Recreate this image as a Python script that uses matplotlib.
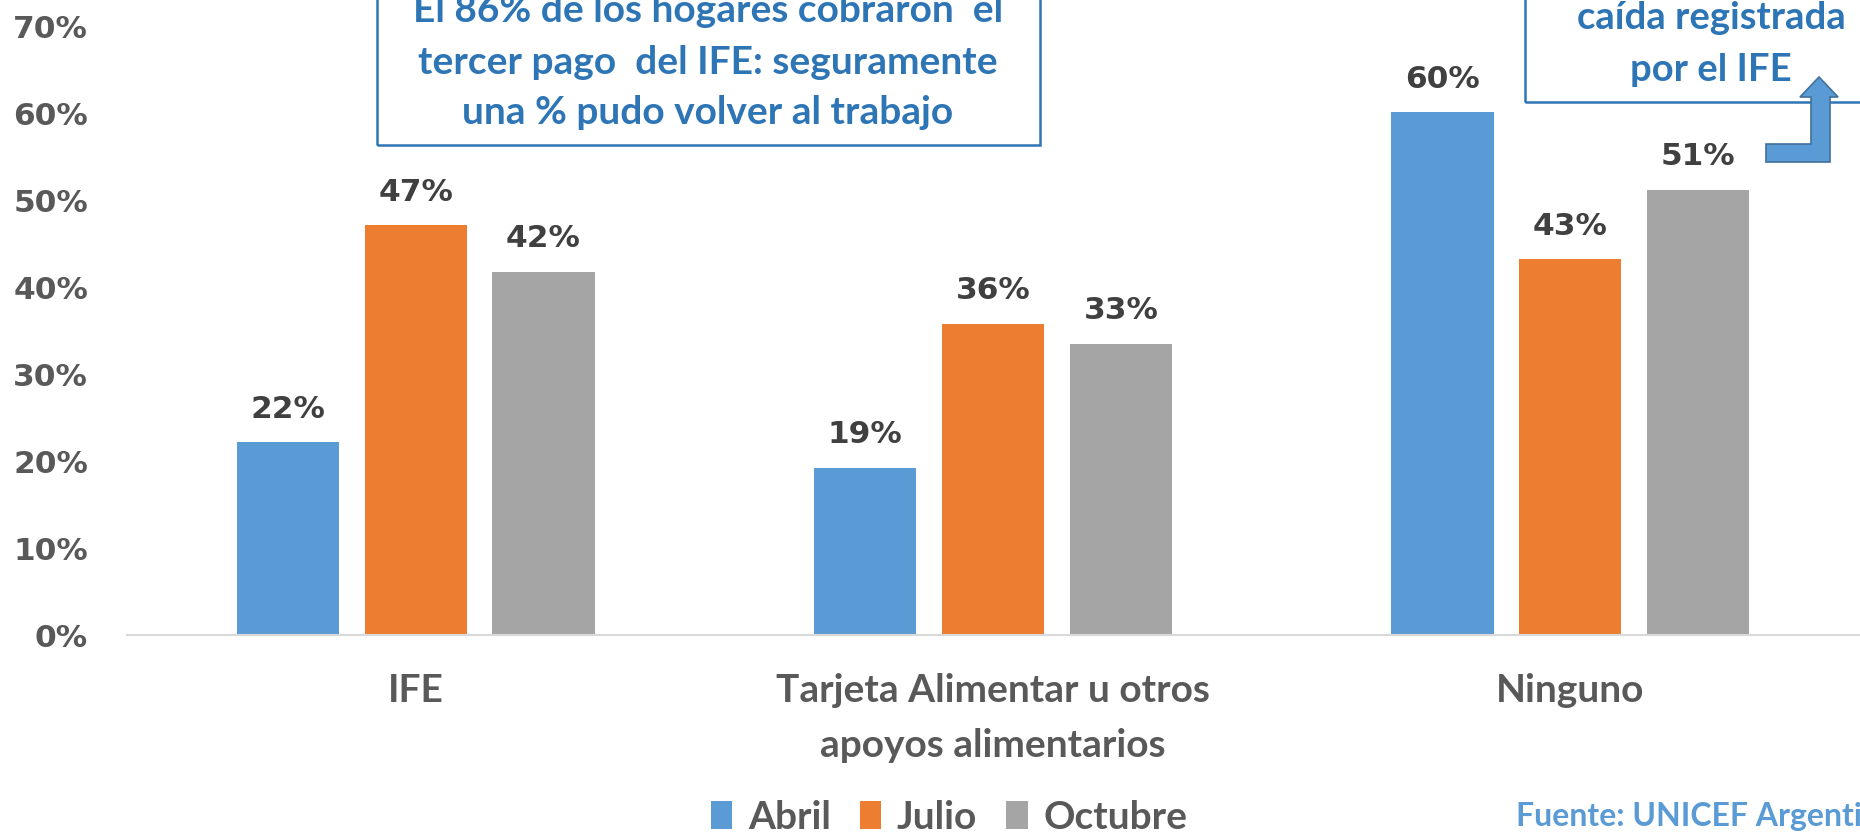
import matplotlib
matplotlib.use("Agg")
import matplotlib.pyplot as plt
from matplotlib.patches import Rectangle, Polygon, Patch
import numpy as np

categories = ["IFE", "Tarjeta Alimentar u otros\napoyos alimentarios", "Ninguno"]
series_names = ["Abril", "Julio", "Octubre"]
abril = [0.221, 0.192, 0.600]
julio = [0.470, 0.357, 0.431]
octubre = [0.417, 0.334, 0.511]
colors = ["#5B9BD5", "#ED7D31", "#A5A5A5"]
yticks = [0, 0.1, 0.2, 0.3, 0.4, 0.5, 0.6, 0.7]
ytick_labels = ["0%", "10%", "20%", "30%", "40%", "50%", "60%", "70%"]

W, H = 1860, 837
fig = plt.figure(figsize=(W / 100, H / 100), dpi=100)

def fx(px):
    return px / W

def fy(py):
    return 1 - py / H

ax = fig.add_axes([fx(127), fy(636), fx(1859) - fx(127), fy(26) - fy(636)])

x = np.arange(len(categories))
width = 0.177
pitch = 0.2215
label_font = "Lato"
for i, (vals, name, c) in enumerate(zip([abril, julio, octubre], series_names, colors)):
    bars = ax.bar(x + (i - 1) * pitch, vals, width, color=c, label=name, zorder=2)
    for b, v in zip(bars, vals):
        ax.annotate(f"{v*100:.0f}%", (b.get_x() + b.get_width() / 2, v),
                    xytext=(0, 14), textcoords="offset points",
                    ha="center", va="bottom", fontsize=22.5, fontweight="bold",
                    color="#404040", family="DejaVu Sans")

ax.set_xlim(-0.5, 2.5)
ax.set_ylim(0, 0.7)
ax.set_yticks(yticks)
ax.set_yticklabels(ytick_labels, fontsize=22.5, fontweight="bold", color="#595959",
                   family="DejaVu Sans")
ax.set_xticks(x)
ax.set_xticklabels(categories, fontsize=28, fontweight="bold", color="#595959",
                   family=label_font, linespacing=1.68)
ax.tick_params(axis="y", length=0, pad=28)
ax.tick_params(axis="x", length=0, pad=27)
for s in ["top", "right", "left"]:
    ax.spines[s].set_visible(False)
ax.spines["bottom"].set_color("#D9D9D9")
ax.spines["bottom"].set_linewidth(1.5)
ax.set_facecolor("none")

# Legend
handles = [Patch(facecolor=c, edgecolor="none") for c in colors]
leg = fig.legend(handles, series_names, loc="center", bbox_to_anchor=(fx(949), fy(818)),
                 ncol=3, frameon=False, handlelength=0.55, handleheight=0.75,
                 handletextpad=0.4, columnspacing=0.75,
                 prop={"family": label_font, "weight": "bold", "size": 28})
for t in leg.get_texts():
    t.set_color("#595959")

# Source
fig.text(fx(1516), fy(817), "Fuente: UNICEF Argentina", fontsize=23, fontweight="bold",
         color="#5B9BD5", family=label_font, ha="left", va="center")

# Text box 1
box_color = "#2E75B6"
fig.patches.append(Rectangle((fx(377), fy(146)), fx(1040) - fx(377), fy(-20) - fy(146),
                             transform=fig.transFigure, fill=False,
                             edgecolor=box_color, linewidth=1.8))
for yy, line in zip([10, 62, 113], ["El 86% de los hogares cobraron  el",
                                    "tercer pago  del IFE: seguramente",
                                    "una % pudo volver al trabajo"]):
    fig.text(fx(708), fy(yy), line, fontsize=28, fontweight="bold", color=box_color,
             family=label_font, ha="center", va="center")

# Text box 2
fig.patches.append(Rectangle((fx(1525), fy(103)), fx(1900) - fx(1525), fy(-20) - fy(103),
                             transform=fig.transFigure, fill=False,
                             edgecolor=box_color, linewidth=1.8))
for yy, line in zip([18, 70], ["caída registrada", "por el IFE"]):
    fig.text(fx(1711), fy(yy), line, fontsize=27.5, fontweight="bold", color=box_color,
             family=label_font, ha="center", va="center")

# Bent arrow
arrow_px = [(1766, 163), (1766, 145), (1811, 145), (1811, 98), (1800, 98), (1819, 78),
            (1838, 98), (1830, 98), (1830, 163)]
fig.patches.append(Polygon([(fx(a), fy(b)) for a, b in arrow_px], closed=True,
                           transform=fig.transFigure, facecolor="#5B9BD5",
                           edgecolor="#41719C", linewidth=1.2))

fig.savefig("out.png", dpi=100, facecolor="white")
